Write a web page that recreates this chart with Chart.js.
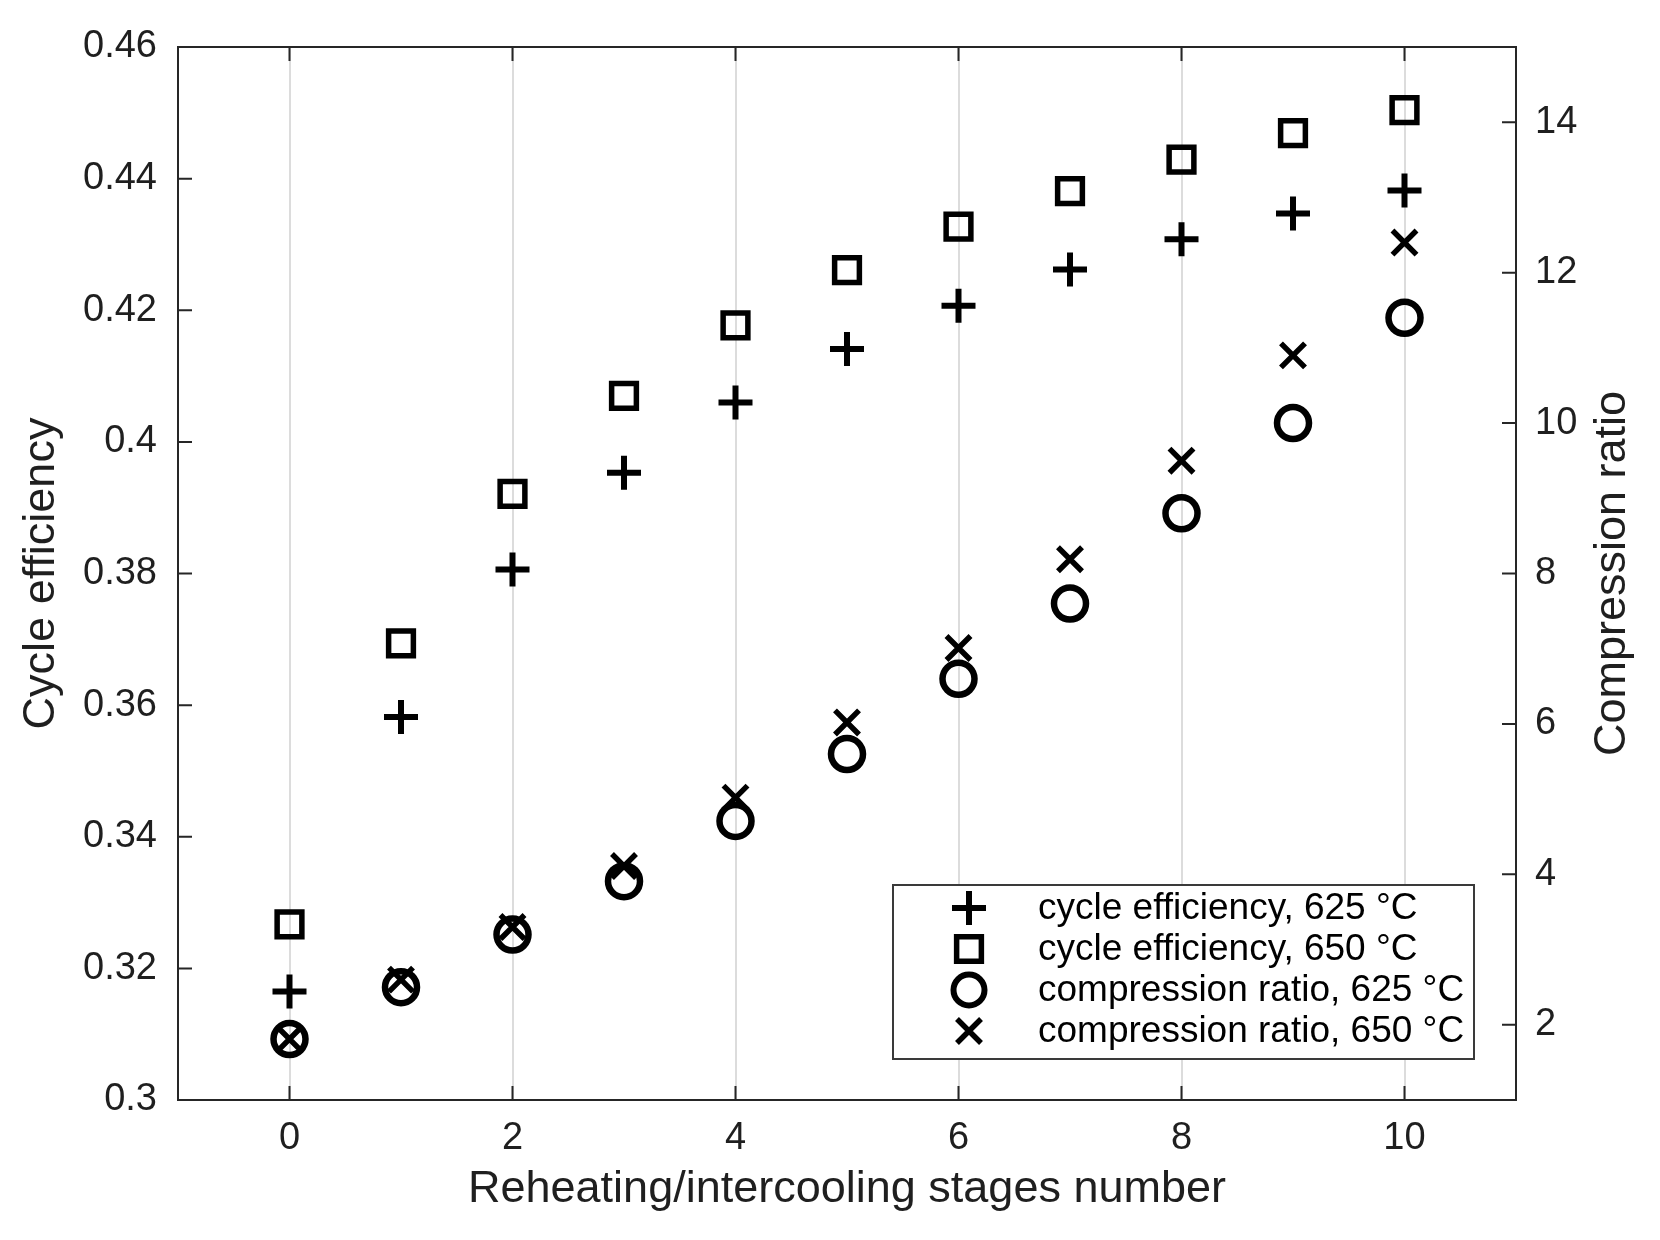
<!DOCTYPE html>
<html>
<head>
<meta charset="utf-8">
<script src="https://cdn.jsdelivr.net/npm/chart.js@4.4.1/dist/chart.umd.min.js"></script>
<style>
  html, body { margin: 0; padding: 0; background: #ffffff; }
  #wrap { width: 1660px; height: 1240px; position: relative; }
</style>
</head>
<body>
<div id="wrap"><canvas id="c"></canvas></div>
<script>
// ---- data ----
const stages = [0, 1, 2, 3, 4, 5, 6, 7, 8, 9, 10];
const eff625 = [0.3165, 0.3582, 0.3806, 0.3953, 0.4060, 0.4141, 0.4207, 0.4262, 0.4308, 0.4347, 0.4382];
const eff650 = [0.3267, 0.3694, 0.3921, 0.4070, 0.4177, 0.4261, 0.4327, 0.4381, 0.4429, 0.4469, 0.4504];
const cr625  = [1.81, 2.50, 3.20, 3.91, 4.71, 5.60, 6.60, 7.60, 8.80, 10.00, 11.40];
const cr650  = [1.81, 2.60, 3.30, 4.11, 5.02, 6.02, 7.01, 8.19, 9.50, 10.90, 12.40];

const xTicks   = [0, 2, 4, 6, 8, 10];
const effTicks = [0.30, 0.32, 0.34, 0.36, 0.38, 0.40, 0.42, 0.44, 0.46];
const crTicks  = [2, 4, 6, 8, 10, 12, 14];

const seriesLabels = [
  'cycle efficiency, 625 °C',
  'cycle efficiency, 650 °C',
  'compression ratio, 625 °C',
  'compression ratio, 650 °C'
];
const xTitle  = 'Reheating/intercooling stages number';
const yTitle  = 'Cycle efficiency';
const y2Title = 'Compression ratio';

// ---- helpers ----
const FONT = "'Liberation Sans', Arial, Helvetica, sans-serif";
const INK = '#1f1f1f';
const pts = ys => stages.map((x, i) => ({ x: x, y: ys[i] }));
const fmt = v => String(Number(Number(v).toFixed(2)));

function drawMarker(ctx, style, x, y, r, lw) {
  ctx.save();
  ctx.strokeStyle = '#000';
  ctx.lineWidth = lw;
  ctx.beginPath();
  if (style === 'cross') {
    ctx.moveTo(x - r, y); ctx.lineTo(x + r, y);
    ctx.moveTo(x, y - r); ctx.lineTo(x, y + r);
  } else if (style === 'crossRot') {
    const d = r * Math.SQRT1_2;
    ctx.moveTo(x - d, y - d); ctx.lineTo(x + d, y + d);
    ctx.moveTo(x + d, y - d); ctx.lineTo(x - d, y + d);
  } else if (style === 'rect') {
    const s = r * Math.SQRT1_2;
    ctx.rect(x - s, y - s, 2 * s, 2 * s);
  } else {
    ctx.arc(x, y, r, 0, Math.PI * 2);
  }
  ctx.stroke();
  ctx.restore();
}

const framePlugin = {
  id: 'frame',
  beforeDatasetsDraw(chart) {
    const { ctx, chartArea: a, scales } = chart;
    const tl = 14;
    ctx.save();
    ctx.strokeStyle = '#262626';
    ctx.lineWidth = 2;
    ctx.beginPath();
    xTicks.forEach(v => {
      const p = scales.x.getPixelForValue(v);
      ctx.moveTo(p, a.bottom); ctx.lineTo(p, a.bottom - tl);
      ctx.moveTo(p, a.top); ctx.lineTo(p, a.top + tl);
    });
    effTicks.forEach(v => {
      const p = scales.y.getPixelForValue(v);
      ctx.moveTo(a.left, p); ctx.lineTo(a.left + tl, p);
    });
    crTicks.forEach(v => {
      const p = scales.y2.getPixelForValue(v);
      ctx.moveTo(a.right, p); ctx.lineTo(a.right - tl, p);
    });
    ctx.stroke();
    ctx.strokeRect(a.left, a.top, a.right - a.left, a.bottom - a.top);
    ctx.restore();
  },
  afterDraw(chart) {
    const { ctx, chartArea: a, scales } = chart;
    // right axis title, reading bottom to top
    ctx.save();
    ctx.fillStyle = INK;
    ctx.font = '45px ' + FONT;
    ctx.textAlign = 'center';
    ctx.textBaseline = 'middle';
    ctx.translate(scales.y2.right - 47, (a.top + a.bottom) / 2);
    ctx.rotate(-Math.PI / 2);
    ctx.fillText(y2Title, 0, 0);
    ctx.restore();

    // legend box inside the plot area (lower right)
    const bx = 893, by = 885, bw = 581, bh = 174;
    ctx.save();
    ctx.fillStyle = '#ffffff';
    ctx.fillRect(bx, by, bw, bh);
    ctx.strokeStyle = '#3a3a3a';
    ctx.lineWidth = 2;
    ctx.strokeRect(bx, by, bw, bh);
    const sizes = { cross: [17, 6], rect: [17.5, 5.5], circle: [15.5, 6], crossRot: [17, 5.5] };
    const rows = [908, 949, 990, 1031];
    ctx.font = '37px ' + FONT;
    ctx.fillStyle = '#000';
    ctx.textAlign = 'left';
    ctx.textBaseline = 'middle';
    chart.data.datasets.forEach((ds, i) => {
      const s = sizes[ds.pointStyle];
      drawMarker(ctx, ds.pointStyle, 969, rows[i], s[0], s[1]);
      ctx.fillText(ds.label, 1038, rows[i] + 1);
    });
    ctx.restore();
  }
};

Chart.defaults.font.family = FONT;
Chart.defaults.color = INK;

new Chart(document.getElementById('c'), {
  type: 'scatter',
  data: {
    datasets: [
      { label: seriesLabels[0], data: pts(eff625), yAxisID: 'y', pointStyle: 'cross',
        pointRadius: 17, borderWidth: 6, borderColor: '#000', backgroundColor: 'rgba(0,0,0,0)' },
      { label: seriesLabels[1], data: pts(eff650), yAxisID: 'y', pointStyle: 'rect',
        pointRadius: 17.5, borderWidth: 5.5, borderColor: '#000', backgroundColor: 'rgba(0,0,0,0)' },
      { label: seriesLabels[2], data: pts(cr625), yAxisID: 'y2', pointStyle: 'circle',
        pointRadius: 16, borderWidth: 6.5, borderColor: '#000', backgroundColor: 'rgba(0,0,0,0)' },
      { label: seriesLabels[3], data: pts(cr650), yAxisID: 'y2', pointStyle: 'crossRot',
        pointRadius: 17, borderWidth: 5.5, borderColor: '#000', backgroundColor: 'rgba(0,0,0,0)' }
    ]
  },
  options: {
    responsive: true,
    maintainAspectRatio: false,
    animation: false,
    events: [],
    devicePixelRatio: 1,
    layout: { padding: { top: 47, left: 0, right: 0, bottom: 0 } },
    plugins: { legend: { display: false }, tooltip: { enabled: false } },
    scales: {
      x: {
        type: 'linear', position: 'bottom', min: -1, max: 11,
        afterFit: s => { s.height = 140; },
        afterBuildTicks: s => { s.ticks = xTicks.map(v => ({ value: v })); },
        grid: { display: true, drawTicks: false, color: '#dcdcdc', lineWidth: 2 },
        border: { display: false },
        ticks: { font: { size: 38 }, padding: 16, color: INK, maxRotation: 0 },
        title: { display: true, text: xTitle, font: { size: 45 }, color: INK, padding: { top: 0, bottom: 23 } }
      },
      y: {
        type: 'linear', position: 'left', min: 0.30, max: 0.46,
        afterFit: s => { s.width = 178; },
        afterBuildTicks: s => { s.ticks = effTicks.map(v => ({ value: v })); },
        grid: { display: false, drawTicks: false },
        border: { display: false },
        ticks: { font: { size: 38 }, padding: 21, color: INK, callback: v => fmt(v) },
        title: { display: true, text: yTitle, font: { size: 45 }, color: INK, padding: { top: 15, bottom: 0 } }
      },
      y2: {
        type: 'linear', position: 'right', min: 1, max: 15,
        afterFit: s => { s.width = 144; },
        afterBuildTicks: s => { s.ticks = crTicks.map(v => ({ value: v })); },
        grid: { display: false, drawTicks: false },
        border: { display: false },
        ticks: { font: { size: 38 }, padding: 19, color: INK, callback: v => fmt(v) },
        title: { display: false }
      }
    }
  },
  plugins: [framePlugin]
});
</script>
</body>
</html>
